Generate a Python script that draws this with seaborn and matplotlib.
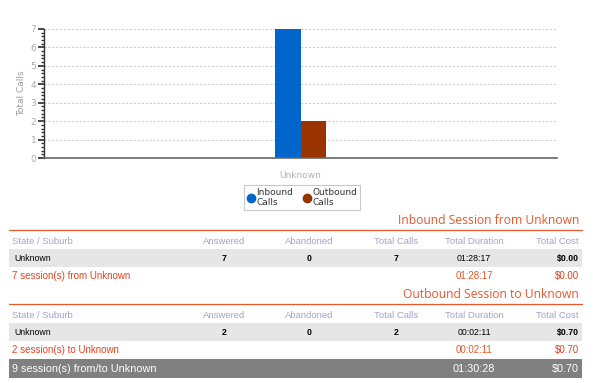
import numpy as np
import pandas as pd
import matplotlib
matplotlib.use("Agg")
import matplotlib.pyplot as plt
from matplotlib.ticker import AutoMinorLocator
from matplotlib.lines import Line2D
from matplotlib.patches import Rectangle
import seaborn as sns

# chart data
categories = ["Unknown"]
series_names = ["Inbound Calls", "Outbound Calls"]
inbound_calls = [7]
outbound_calls = [2]
y_ticks = [0, 1, 2, 3, 4, 5, 6, 7]

# table data
table_headers = ["State / Suburb", "Answered", "Abandoned", "Total Calls", "Total Duration", "Total Cost"]
inbound_row = ["Unknown", "7", "0", "7", "01:28:17", "$0.00"]
inbound_summary = ["7 session(s) from Unknown", "01:28:17", "$0.00"]
outbound_row = ["Unknown", "2", "0", "2", "00:02:11", "$0.70"]
outbound_summary = ["2 session(s) to Unknown", "00:02:11", "$0.70"]
total_summary = ["9 session(s) from/to Unknown", "01:30:28", "$0.70"]

BLUE = "#0066cc"
BROWN = "#993300"
ORANGE = "#e8572a"
RED = "#e2421f"
HEAD = "#a3a3c8"

W, H = 595, 383
sns.set_theme(style="white")
plt.rcParams["font.family"] = ["DejaVu Sans"]

df = pd.DataFrame({
    "category": categories * 2,
    "series": [series_names[0]] * len(categories) + [series_names[1]] * len(categories),
    "calls": inbound_calls + outbound_calls,
})

fig = plt.figure(figsize=(W / 100, H / 100), dpi=100)
ax = fig.add_axes([44 / W, 1 - 158 / H, (557 - 44) / W, (158 - 29) / H])
sns.barplot(data=df, x="category", y="calls", hue="series",
            palette=[BLUE, BROWN], width=0.1, gap=0, ax=ax, legend=False,
            saturation=1, linewidth=0)
ax.set_xlim(-0.5, 0.5)
ax.set_ylim(0, 7)
ax.set_yticks(y_ticks)
ax.yaxis.set_minor_locator(AutoMinorLocator(5))
ax.grid(axis="y", which="major", color="#d0d0d0", linestyle=(0, (2, 1.5)), linewidth=0.8)
ax.set_axisbelow(True)
for s in ["top", "right"]:
    ax.spines[s].set_visible(False)
ax.spines["left"].set_color("#333333")
ax.spines["left"].set_linewidth(1)
ax.spines["bottom"].set_color("#666666")
ax.spines["bottom"].set_linewidth(1.2)
ax.tick_params(axis="y", which="major", length=4, color="#333333", labelsize=6.5,
               labelcolor="#aaaaaa", left=True, pad=1.5)
ax.tick_params(axis="y", which="minor", length=2, color="#333333", left=True)
ax.tick_params(axis="x", length=0, labelsize=6.5, labelcolor="#b0b0b0", pad=9)
ax.set_xlabel("")
ax.set_ylabel("Total Calls", fontsize=6.5, color="#999999", labelpad=3)

handles = [Line2D([], [], marker="o", linestyle="", markersize=6, color=c) for c in [BLUE, BROWN]]
leg = fig.legend(handles, ["Inbound\nCalls", "Outbound\nCalls"], loc="upper center",
                 bbox_to_anchor=(302 / W, 1 - 180 / H), ncol=2, fontsize=6.5,
                 frameon=True, fancybox=False, handletextpad=0.1, columnspacing=1.0,
                 borderpad=0.35, handlelength=1.0, labelspacing=0.1)
leg.get_frame().set_edgecolor("#bbbbbb")
leg.get_frame().set_linewidth(0.8)
for t in leg.get_texts():
    t.set_color("#333333")

# table overlay in pixel coordinates
tx = fig.add_axes([0, 0, 1, 1])
tx.set_xlim(0, W)
tx.set_ylim(H, 0)
tx.axis("off")
tx.patch.set_alpha(0)

col_x = [14, 224, 309, 396, 474, 579]
col_ha = ["left", "center", "center", "center", "center", "right"]
head_x = [12, 224, 309, 396, 474, 579]
tfont = "Liberation Sans"


def section(title, y0, row, summary):
    tx.text(579, y0, title, ha="right", va="center", fontsize=8.7, color=ORANGE, family="Open Sans")
    tx.plot([9, 582], [y0 + 9, y0 + 9], color=ORANGE, linewidth=0.9)
    for i, h in enumerate(table_headers):
        tx.text(head_x[i], y0 + 20, h, ha=col_ha[i], va="center", fontsize=6.8, color=HEAD, family=tfont)
    tx.add_patch(Rectangle((9, y0 + 28), 573, 18, color="#e6e6e6", linewidth=0))
    for i, v in enumerate(row):
        tx.text(col_x[i], y0 + 37.5, v, ha=col_ha[i], va="center", fontsize=6.3, color="black",
                family=tfont, weight="bold" if i in (1, 2, 3, 5) else "normal")
    tx.text(12, y0 + 55, summary[0], ha="left", va="center", fontsize=7, color=RED, family=tfont)
    tx.text(474, y0 + 55, summary[1], ha="center", va="center", fontsize=7, color=ORANGE, family=tfont)
    tx.text(579, y0 + 55, summary[2], ha="right", va="center", fontsize=7, color=RED, family=tfont)


section("Inbound Session from Unknown", 221, inbound_row, inbound_summary)
section("Outbound Session to Unknown", 295, outbound_row, outbound_summary)

tx.add_patch(Rectangle((9, 359), 573, 19, color="#808080", linewidth=0))
tx.text(12, 369, total_summary[0], ha="left", va="center", fontsize=7.8, color="white", family=tfont)
tx.text(474, 369, total_summary[1], ha="center", va="center", fontsize=7.8, color="white", family=tfont)
tx.text(579, 369, total_summary[2], ha="right", va="center", fontsize=7.8, color="white", family=tfont)

fig.savefig("out.png", dpi=100)
